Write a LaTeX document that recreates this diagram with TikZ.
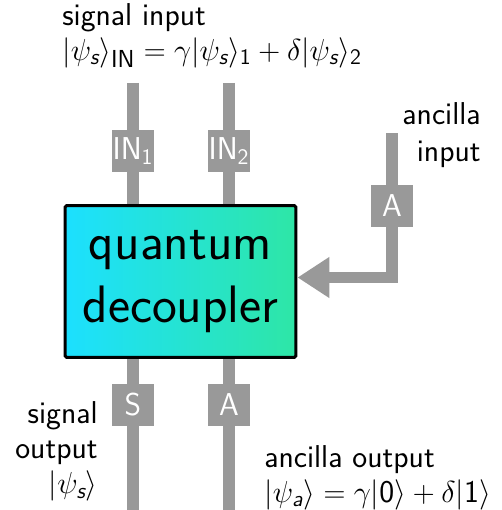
\documentclass[tikz,border=0pt]{standalone}
\usepackage{amsmath}
\usetikzlibrary{arrows.meta,positioning,backgrounds}
\renewcommand{\familydefault}{\sfdefault}
\definecolor{wiregray}{RGB}{153,153,153}
\definecolor{qcyan}{RGB}{28,224,255}
\definecolor{qgreen}{RGB}{46,230,166}
% sans letters and digits inside formulas
\newcommand{\sv}[1]{\text{\itshape #1}}
\newcommand{\sn}[1]{\text{#1}}

\begin{document}
\begin{tikzpicture}[
  x=0.02cm, y=-0.02cm,
  font=\fontsize{18}{20}\selectfont,
  wire/.style={draw=wiregray, line width=0.23cm},
  port/.style={fill=wiregray, text=white, minimum size=0.84cm, inner sep=0pt},
  decbox/.style={draw=black, line width=0.06cm, rounded corners=1pt, left color=qcyan, right color=qgreen, minimum width=4.62cm, minimum height=3.04cm, align=center, font=\fontsize{30}{36}\selectfont},
  lbl/.style={inner sep=0pt},
  arr/.style={-{Triangle[length=0.64cm, width=0.78cm]}},
]
\useasboundingbox (0,0) rectangle (501,510);
\node[decbox] (dec) at (180.5,281.5) {quantum\\decoupler};
% ports on the wires
\node[port] (in1) at (133,151) {IN$_{\sn{1}}$};
\node[port] (in2) at (229,151) {IN$_{\sn{2}}$};
\node[port] (ancin) at (392,206) {A};
\node[port] (sout) at (133,405) {S};
\node[port] (aout) at (229,405) {A};
\coordinate (in1top) at (133,83);
\coordinate (in2top) at (229,83);
\coordinate (anctop) at (392,133);
\coordinate (soutend) at (133,510);
\coordinate (aoutend) at (229,510);
\begin{pgfonlayer}{background}
\draw[wire] (in1top) -- (in1) -- (in1 |- dec.north);
\draw[wire] (in2top) -- (in2) -- (in2 |- dec.north);
\draw[wire] (sout |- dec.south) -- (sout) -- (soutend);
\draw[wire] (aout |- dec.south) -- (aout) -- (aoutend);
\end{pgfonlayer}
\draw[wire, arr] (anctop) -- (ancin) |- ([yshift=0.08cm]dec.east);
% labels
\node[lbl, anchor=north west, align=left] (sigin) at (62,3) {signal input\\$|\psi_{\sv{s}}\rangle_{\text{\fontsize{14}{14}\selectfont IN}} = \gamma|\psi_{\sv{s}}\rangle_{\sn{1}} + \delta|\psi_{\sv{s}}\rangle_{\sn{2}}$};
\node[lbl, anchor=north east, align=right] (ancinlbl) at (481,102) {ancilla\\[1pt]input};
\node[lbl, anchor=north east, align=right] (sigout) at (98,401) {signal\\output\\$|\psi_{\sv{s}}\rangle$};
\node[lbl, anchor=north west, align=left] (ancout) at (264,445) {ancilla output\\$|\psi_{\sv{a}}\rangle = \gamma|\sn{0}\rangle + \delta|\sn{1}\rangle$};
\end{tikzpicture}
\end{document}
